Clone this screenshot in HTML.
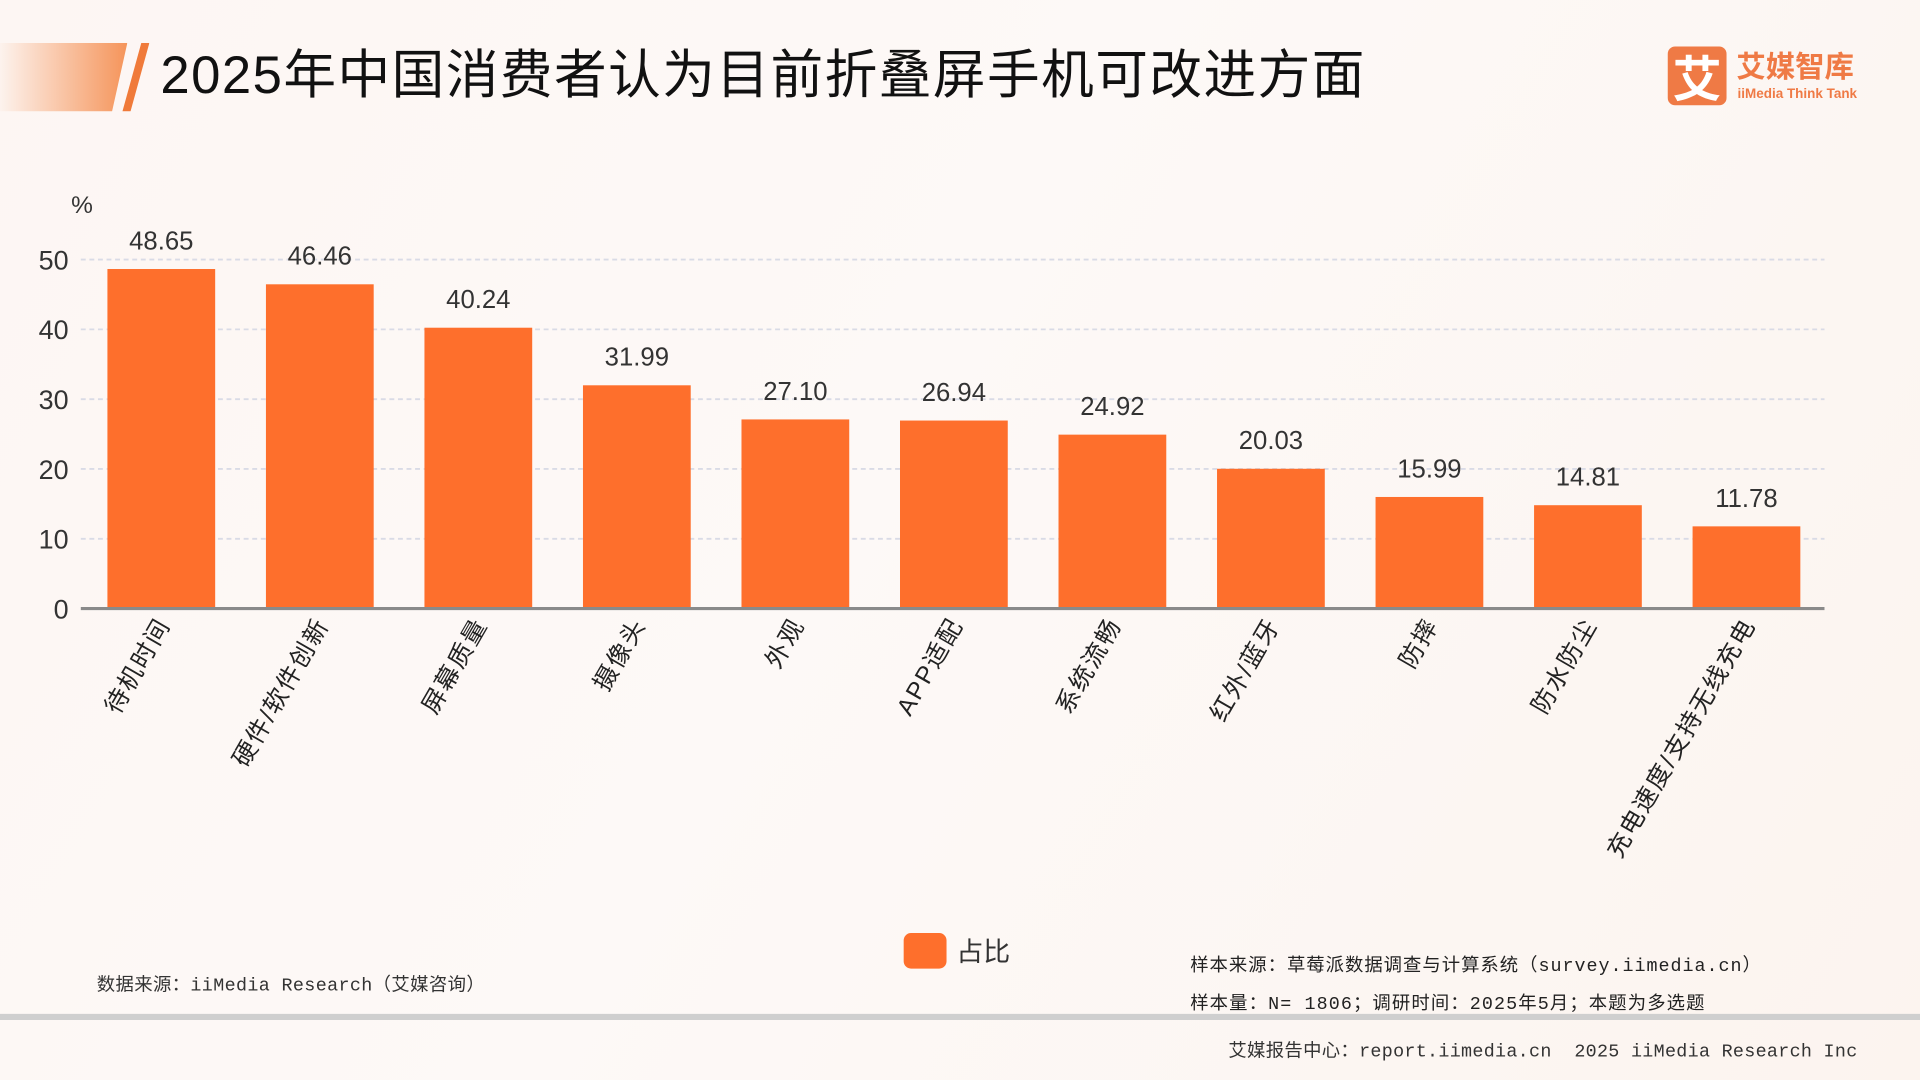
<!DOCTYPE html>
<html><head><meta charset="utf-8">
<style>
html,body{margin:0;padding:0;width:1920px;height:1080px;overflow:hidden;}
#stage{position:absolute;left:0;top:0;width:1568px;height:882px;transform:scale(1.22449);transform-origin:0 0;
background:linear-gradient(120deg,#fdf6f3 0%,#fdf9f7 45%,#fcf4ef 100%);font-family:"Liberation Sans","Noto Sans CJK SC",sans-serif;}
.abs{position:absolute;white-space:nowrap;}
.mono{font-family:'Liberation Mono','Noto Sans CJK SC',monospace;}
</style></head><body>
<div id="stage">
  <div class="abs" style="left:0;top:35px;width:104px;height:56px;background:linear-gradient(90deg,rgba(252,230,215,0.2),#f5945a);clip-path:polygon(0 0,100% 0,88% 100%,0 100%);"></div>
  <div class="abs" style="left:100px;top:35px;width:22px;height:56px;background:#f07a3a;clip-path:polygon(70% 0,100% 0,30% 100%,0 100%);"></div>
  <div class="abs" style="left:131px;top:27px;font-size:43px;letter-spacing:1.2px;color:#111;">2025年中国消费者认为目前折叠屏手机可改进方面</div>
  <div class="abs" style="left:1362px;top:38px;width:48px;height:48px;background:#ef7a45;border-radius:6px;color:#fff;font-size:40px;line-height:48px;text-align:center;font-weight:bold;font-family:'Noto Sans CJK SC',sans-serif;">艾</div>
  <div class="abs" style="left:1418px;top:38px;font-size:24px;color:#ef7a45;font-weight:bold;font-family:'Noto Sans CJK SC',sans-serif;line-height:30px;">艾媒智库</div>
  <div class="abs" style="left:1419px;top:71px;font-size:11px;color:#ef7a45;font-weight:bold;">iiMedia Think Tank</div>

  <svg id="chart" class="abs" style="left:0;top:0" width="1568" height="882"></svg>

  <div class="abs" style="left:738px;top:762px;width:35px;height:29px;background:#fe6f2c;border-radius:6px;"></div>
  <div class="abs" style="left:781px;top:760px;font-size:22px;color:#333;">占比</div>
  <div class="abs mono" style="left:79px;top:793px;font-size:15px;color:#333;letter-spacing:0.3px;">数据来源：iiMedia Research（艾媒咨询）</div>
  <div class="abs mono" style="left:972px;top:777px;font-size:15px;color:#222;letter-spacing:0.8px;">样本来源：草莓派数据调查与计算系统（survey.iimedia.cn）</div>
  <div class="abs mono" style="left:972px;top:808px;font-size:15px;color:#222;letter-spacing:0.9px;">样本量：N= 1806；调研时间：2025年5月；本题为多选题</div>
  <div class="abs" style="left:0;top:828px;width:1568px;height:5px;background:#cfcfcf;"></div>
  <div class="abs mono" style="right:51px;top:847px;font-size:15px;color:#333;letter-spacing:0.25px;">艾媒报告中心：report.iimedia.cn &nbsp;2025 iiMedia Research Inc</div>
</div>
<script>
const categories=["待机时间","硬件/软件创新","屏幕质量","摄像头","外观","APP适配","系统流畅","红外/蓝牙","防摔","防水防尘","充电速度/支持无线充电"];
const values=[48.65,46.46,40.24,31.99,27.10,26.94,24.92,20.03,15.99,14.81,11.78];
const valueLabels=["48.65","46.46","40.24","31.99","27.10","26.94","24.92","20.03","15.99","14.81","11.78"];
const yTicks=[0,10,20,30,40,50];

const NS="http://www.w3.org/2000/svg";
const svg=document.getElementById('chart');
const x0=66,x1=1490,yBase=497,yTop50=212;
const band=(x1-x0)/categories.length;
function yScale(v){return yBase-(yBase-yTop50)*v/50;}
function xCenter(i){return x0+band*(i+0.5);}
function mk(tag,attrs){const e=document.createElementNS(NS,tag);for(const k in attrs)e.setAttribute(k,attrs[k]);svg.appendChild(e);return e;}

let t=mk('text',{x:67,y:174,'font-size':20,fill:'#333','text-anchor':'middle'});t.textContent='%';


yTicks.forEach(v=>{
  const y=yScale(v);
  if(v>0){const g=mk('line',{x1:x0,x2:x1,y1:y,y2:y,stroke:'#d9dbe6','stroke-width':1.5,'stroke-dasharray':'4,3'});
    
    }
  const l=mk('text',{x:56,y:y+8,'font-size':22,fill:'#333','text-anchor':'end'});
  
  
  l.textContent=v;
});
const bw=88;
values.forEach((v,i)=>{
  const cx=xCenter(i)+1,y=yScale(v);
  const r=mk('rect',{x:cx-bw/2,y:y,width:bw,height:yBase-y,fill:'#fe6f2c'});
  
  
  const lb=mk('text',{x:cx,y:y-16,'font-size':21,fill:'#333','text-anchor':'middle'});
  
  
  lb.textContent=valueLabels[i];
  const xl=mk('text',{x:0,y:0,'font-size':20,'letter-spacing':1.5,fill:'#222','text-anchor':'end',transform:`translate(${cx+8},${yBase+13}) rotate(-60)`});
  
  
  xl.textContent=categories[i];
});
const ax=mk('line',{x1:x0,x2:x1,y1:yBase,y2:yBase,stroke:'#8a8a8a','stroke-width':2.5});


</script>
</body></html>
